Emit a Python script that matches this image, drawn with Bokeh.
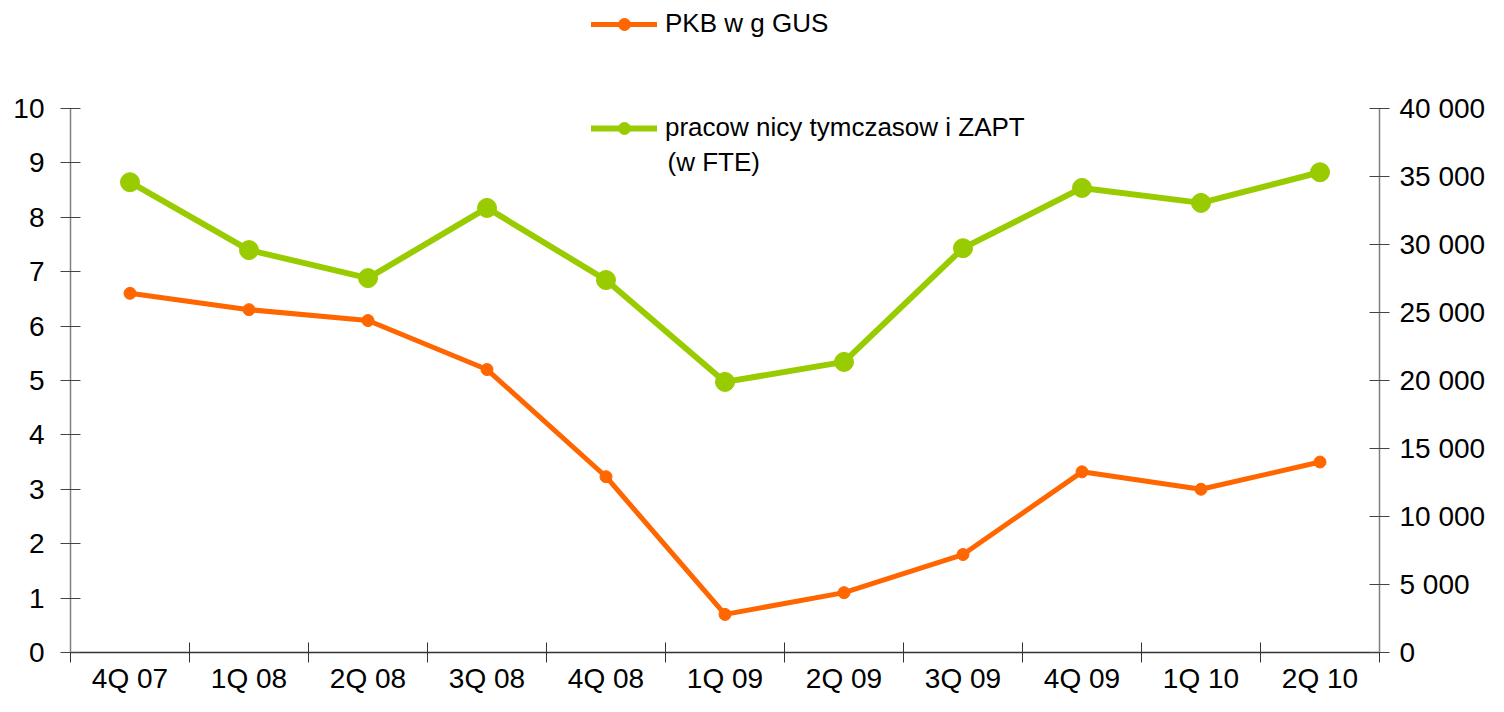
from bokeh.plotting import figure
from bokeh.models import (Range1d, LinearAxis, FixedTicker, Legend, LegendItem, ColumnDataSource, Label)
from bokeh.embed import file_html
from bokeh.resources import INLINE

categories = ["4Q 07", "1Q 08", "2Q 08", "3Q 08", "4Q 08", "1Q 09", "2Q 09", "3Q 09", "4Q 09", "1Q 10", "2Q 10"]
pkb = [6.6, 6.3, 6.1, 5.2, 3.23, 0.7, 1.1, 1.8, 3.32, 3.0, 3.5]
temp_workers = [34570, 29580, 27520, 32680, 27380, 19890, 21360, 29720, 34150, 33050, 35300]
left_ticks = list(range(0, 11))
right_ticks = list(range(0, 40001, 5000))
label_pkb = "PKB w g GUS"
label_workers = "pracow nicy tymczasow i ZAPT"
label_workers_2 = "(w  FTE)"

ORANGE = "#FF6600"
GREEN = "#99CC00"
FONT = "Liberation Sans"

# layout (figure pixel coordinates)
FIG_W, FIG_H = 1488, 696
FRAME_L, FRAME_R, FRAME_B = 70, 1380, 653
AXIS_TOP_PX = 108          # where the top tick (10 / 40 000) sits
frame_h = FRAME_B
stretch = frame_h / (FRAME_B - AXIS_TOP_PX)

x_centers = [i + 0.5 for i in range(len(categories))]
x_bounds = [i for i in range(len(categories) + 1)]

src = ColumnDataSource(dict(x=x_centers, pkb=pkb, tw=temp_workers))

left_max = left_ticks[-1]
right_max = right_ticks[-1]

p = figure(width=FIG_W, height=FIG_H, output_backend="svg", toolbar_location=None,
           x_range=Range1d(0, len(categories)), y_range=Range1d(0, left_max * stretch))
p.min_border_left = FRAME_L
p.min_border_right = FIG_W - FRAME_R
p.min_border_top = 0
p.min_border_bottom = FIG_H - FRAME_B
p.outline_line_color = None
p.xgrid.visible = False
p.ygrid.visible = False
p.background_fill_color = "white"
p.border_fill_color = "white"

p.extra_y_ranges = {"right": Range1d(0, right_max * stretch)}

# x axis
xa = p.xaxis[0]
xa.ticker = FixedTicker(ticks=x_centers, minor_ticks=x_bounds)
xa.major_label_overrides = {x: c for x, c in zip(x_centers, categories)}
xa.major_tick_in = 0
xa.major_tick_out = 0
xa.minor_tick_in = 10
xa.minor_tick_out = 10
xa.minor_tick_line_color = "#333333"
xa.axis_line_color = "#333333"
xa.axis_line_width = 1.5
xa.major_label_text_font = FONT
xa.major_label_text_font_size = "28px"
xa.major_label_text_color = "black"
xa.major_label_standoff = 0

# left axis
ya = p.yaxis[0]
ya.ticker = FixedTicker(ticks=left_ticks)
ya.bounds = (0, left_max)
ya.major_tick_in = 10
ya.major_tick_out = 10
ya.minor_tick_line_color = None
ya.axis_line_color = "#808080"
ya.axis_line_width = 1.5
ya.major_tick_line_color = "#444444"
ya.major_label_text_font = FONT
ya.major_label_text_font_size = "28px"
ya.major_label_text_color = "black"
ya.major_label_standoff = 16

# right axis
ra = LinearAxis(y_range_name="right", ticker=FixedTicker(ticks=right_ticks), bounds=(0, right_max))
ra.major_label_overrides = {t: f"{t:,}".replace(",", " ") for t in right_ticks}
ra.major_tick_in = 10
ra.major_tick_out = 10
ra.minor_tick_line_color = None
ra.axis_line_color = "#808080"
ra.axis_line_width = 1.5
ra.major_tick_line_color = "#444444"
ra.major_label_text_font = FONT
ra.major_label_text_font_size = "28px"
ra.major_label_text_color = "black"
ra.major_label_standoff = 10
p.add_layout(ra, "right")

gl = p.line("x", "tw", source=src, y_range_name="right", color=GREEN, line_width=6,
            line_join="round", line_cap="round")
gs = p.scatter("x", "tw", source=src, y_range_name="right", color=GREEN, size=19)
ol = p.line("x", "pkb", source=src, color=ORANGE, line_width=5,
            line_join="round", line_cap="round")
os_ = p.scatter("x", "pkb", source=src, color=ORANGE, size=12)

def make_legend(label, rends, loc):
    lg = Legend(items=[LegendItem(label=label, renderers=rends)], location=loc)
    lg.border_line_color = None
    lg.background_fill_alpha = 0
    lg.padding = 0
    lg.margin = 0
    lg.glyph_width = 66
    lg.glyph_height = 30
    lg.label_standoff = 8
    lg.label_text_font = FONT
    lg.label_text_font_size = "26px"
    lg.label_text_color = "black"
    return lg

p.add_layout(make_legend(label_pkb, [ol, os_], (521, 613)))
p.add_layout(make_legend(label_workers, [gl, gs], (521, 509)))
p.add_layout(Label(x=597, y=FRAME_B - 162, x_units="screen", y_units="screen",
                   text=label_workers_2, text_font=FONT, text_font_size="26px",
                   text_baseline="middle", text_color="black"))

open("out.html", "w").write(file_html(p, INLINE))
